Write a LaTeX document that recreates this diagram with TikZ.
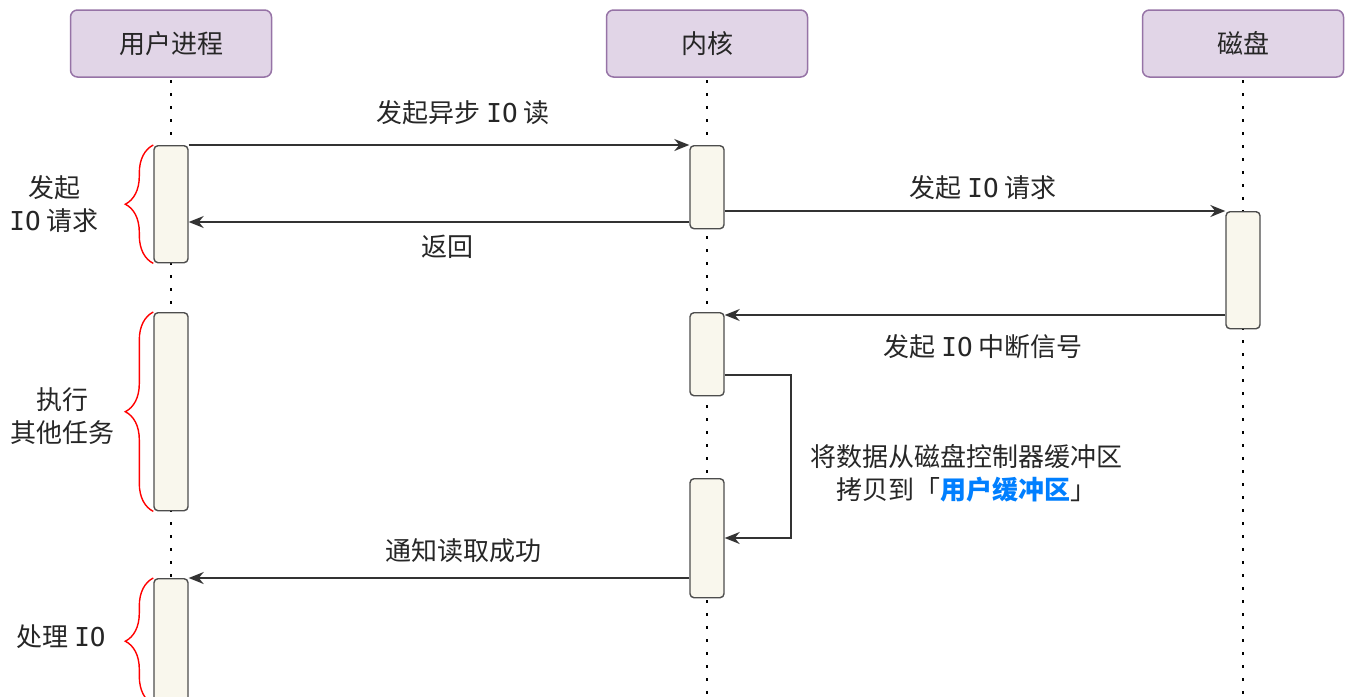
\documentclass[tikz,border=0pt]{standalone}
\usepackage{fontspec}
\setmainfont{Noto Sans CJK SC}
\newfontfamily\iofont{DejaVu Sans Mono}
\usetikzlibrary{arrows.meta,decorations.pathreplacing}
\definecolor{hdrfill}{HTML}{E1D5E7}
\definecolor{hdrline}{HTML}{9673A6}
\definecolor{actfill}{HTML}{F9F7ED}
\definecolor{actline}{HTML}{4D4D4D}
\definecolor{lnc}{HTML}{333333}
\definecolor{hl}{HTML}{007FFF}
\newcommand{\IO}{{\iofont IO}}
\begin{document}
\begin{tikzpicture}[x=1pt,y=-1pt,
  every node/.style={font=\fontsize{26}{33}\selectfont, text=black!85},
  hdr/.style={draw=hdrline, fill=hdrfill, line width=1.5pt, rounded corners=7pt, minimum width=201pt, minimum height=67pt, anchor=center},
  act/.style={draw=actline, fill=actfill, line width=1.4pt, rounded corners=4pt, minimum width=34pt, anchor=north},
  life/.style={line width=2.6pt, dash pattern=on 2.6pt off 10.4pt, black},
  msg/.style={draw=lnc, line width=1.4pt, -{Stealth[length=15pt,width=12pt]}},
  brc/.style={draw=red, line width=1.4pt, decorate, decoration={brace, amplitude=28pt}},
  lbl/.style={align=center, inner sep=0pt}
]
\useasboundingbox (0,0) rectangle (1351,696);
% lifelines
\draw[life] (171,80) -- (171,696);
\draw[life] (707,80) -- (707,696);
\draw[life] (1243,80) -- (1243,696);
% headers
\node[hdr] (user) at (171,43.5) {用户进程};
\node[hdr] (kern) at (707,43.5) {内核};
\node[hdr] (disk) at (1243,43.5) {磁盘};
% activations
\node[act, minimum height=117pt] (u1) at (171,145) {};
\node[act, minimum height=198pt] (u2) at (171,312) {};
\node[act, minimum height=125pt] (u3) at (171,578) {};
\node[act, minimum height=83pt] (k1) at (707,145) {};
\node[act, minimum height=83pt] (k2) at (707,312) {};
\node[act, minimum height=119pt] (k3) at (707,478) {};
\node[act, minimum height=117pt] (d1) at (1243,211) {};
% messages
\draw[msg] (u1.north east) -- (k1.north west);
\node[lbl] (m1) at (463,113) {发起异步 \IO{} 读};
\draw[msg] (k1.west |- 0,222) -- (u1.east |- 0,222);
\node[lbl] (m2) at (447,247) {返回};
\draw[msg] (k1.east |- 0,211) -- (d1.north west);
\node[lbl] (m3) at (983,188) {发起 \IO{} 请求};
\draw[msg] (d1.west |- 0,315) -- (k2.east |- 0,315);
\node[lbl] (m4) at (983,347) {发起 \IO{} 中断信号};
\coordinate (lp1) at (791,375);
\coordinate (lp2) at (791,538);
\draw[msg] (k2.east |- lp1) -- (lp1) -- (lp2) -- (k3.east |- lp2);
\node[lbl] (m5) at (966,473) {将数据从磁盘控制器缓冲区\\拷贝到「{\bfseries\color{hl}用户缓冲区}」};
\draw[msg] (k3.west |- u3.north) -- (u3.north east);
\node[lbl] (m6) at (463,551) {通知读取成功};
% braces
\draw[brc] (u1.south west) -- (u1.north west);
\draw[brc] (u2.south west) -- (u2.north west);
\draw[brc] (u3.south west) -- (u3.north west);
\node[lbl] (t1) at (54,204) {发起\\\IO{} 请求};
\node[lbl] (t2) at (62,416) {执行\\其他任务};
\node[lbl] (t3) at (61,637) {处理 \IO};
\end{tikzpicture}
\end{document}
